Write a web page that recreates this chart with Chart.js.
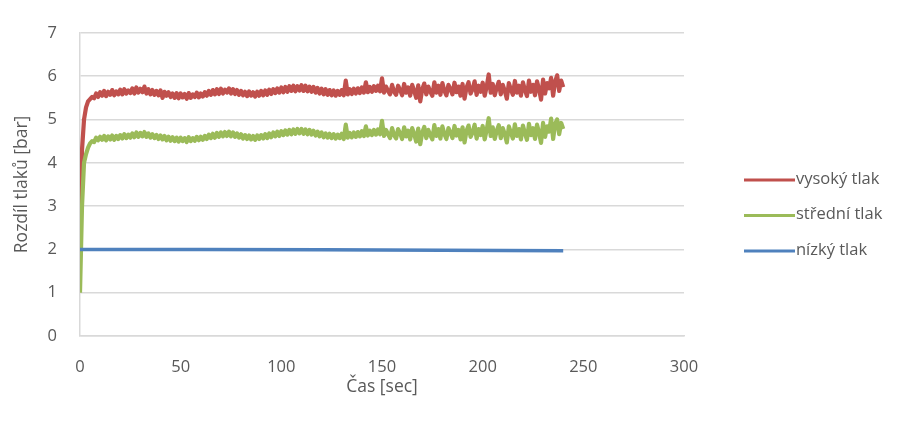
<!DOCTYPE html>
<html>
<head>
<meta charset="utf-8">
<script src="https://cdn.jsdelivr.net/npm/chart.js@4"></script>
<style>
  html, body { margin: 0; padding: 0; background: #ffffff; }
  #wrap { width: 916px; height: 421px; position: relative; }
</style>
</head>
<body>
<div id="wrap"><canvas id="c" width="916" height="421"></canvas></div>
<script>
// ---- data ----
const seriesNames = ["vysoký tlak", "střední tlak", "nízký tlak"];
const xTicks = [0, 50, 100, 150, 200, 250, 300];
const yTicks = [0, 1, 2, 3, 4, 5, 6, 7];

// sample times (s) for the two noisy series: one sample per second, 0..240
const timeSec = Array.from({ length: 241 }, (_, i) => i);

// vysoký tlak [bar], one value per second
const highPressure = [
  2.20, 4.30, 5.00, 5.28, 5.42, 5.47, 5.52, 5.49, 5.60, 5.52,
  5.63, 5.55, 5.66, 5.54, 5.64, 5.57, 5.68, 5.56, 5.65, 5.58,
  5.69, 5.58, 5.70, 5.60, 5.67, 5.61, 5.72, 5.60, 5.74, 5.62,
  5.71, 5.63, 5.76, 5.60, 5.70, 5.58, 5.68, 5.57, 5.66, 5.56,
  5.67, 5.50, 5.64, 5.55, 5.63, 5.52, 5.60, 5.50, 5.61, 5.49,
  5.60, 5.51, 5.59, 5.48, 5.61, 5.50, 5.58, 5.52, 5.62, 5.51,
  5.60, 5.53, 5.63, 5.55, 5.66, 5.57, 5.68, 5.58, 5.70, 5.59,
  5.71, 5.60, 5.69, 5.62, 5.72, 5.60, 5.70, 5.59, 5.68, 5.57,
  5.66, 5.56, 5.64, 5.54, 5.65, 5.55, 5.63, 5.53, 5.64, 5.55,
  5.66, 5.56, 5.67, 5.57, 5.69, 5.59, 5.70, 5.61, 5.72, 5.62,
  5.74, 5.63, 5.75, 5.64, 5.77, 5.66, 5.78, 5.65, 5.77, 5.67,
  5.79, 5.66, 5.78, 5.65, 5.76, 5.64, 5.75, 5.62, 5.73, 5.60,
  5.71, 5.58, 5.70, 5.57, 5.68, 5.56, 5.67, 5.55, 5.66, 5.57,
  5.68, 5.56, 5.90, 5.58, 5.70, 5.59, 5.71, 5.60, 5.72, 5.61,
  5.74, 5.62, 5.86, 5.63, 5.75, 5.64, 5.77, 5.66, 5.78, 5.65,
  5.95, 5.62, 5.76, 5.66, 5.58, 5.80, 5.64, 5.57, 5.78, 5.68,
  5.56, 5.82, 5.62, 5.74, 5.55, 5.80, 5.66, 5.50, 5.79, 5.42,
  5.70, 5.83, 5.58, 5.76, 5.64, 5.55, 5.86, 5.62, 5.78, 5.57,
  5.84, 5.66, 5.56, 5.80, 5.70, 5.58, 5.85, 5.63, 5.76, 5.55,
  5.82, 5.48, 5.74, 5.86, 5.60, 5.70, 5.88, 5.57, 5.78, 5.64,
  5.85, 5.55, 5.76, 6.04, 5.62, 5.82, 5.56, 5.74, 5.87, 5.58,
  5.80, 5.66, 5.48, 5.84, 5.70, 5.57, 5.89, 5.62, 5.78, 5.55,
  5.86, 5.68, 5.54, 5.90, 5.64, 5.80, 5.56, 5.88, 5.70, 5.46,
  5.92, 5.60, 5.84, 5.72, 5.96, 5.55, 5.88, 6.02, 5.66, 5.90,
  5.75
];

// střední tlak [bar], one value per second
const midPressure = [
  1.00, 3.00, 4.00, 4.20, 4.35, 4.45, 4.50, 4.48, 4.58, 4.52,
  4.60, 4.53, 4.62, 4.52, 4.61, 4.54, 4.63, 4.53, 4.62, 4.55,
  4.64, 4.56, 4.66, 4.57, 4.65, 4.58, 4.68, 4.59, 4.70, 4.60,
  4.69, 4.61, 4.71, 4.60, 4.68, 4.58, 4.66, 4.57, 4.64, 4.55,
  4.63, 4.54, 4.62, 4.52, 4.60, 4.51, 4.59, 4.50, 4.58, 4.49,
  4.58, 4.50, 4.57, 4.48, 4.59, 4.50, 4.57, 4.51, 4.60, 4.52,
  4.60, 4.53, 4.62, 4.55, 4.65, 4.57, 4.67, 4.58, 4.69, 4.60,
  4.70, 4.61, 4.71, 4.62, 4.72, 4.61, 4.70, 4.60, 4.68, 4.58,
  4.66, 4.56, 4.64, 4.55, 4.63, 4.54, 4.62, 4.53, 4.63, 4.55,
  4.64, 4.56, 4.66, 4.57, 4.68, 4.59, 4.70, 4.61, 4.72, 4.62,
  4.73, 4.64, 4.75, 4.65, 4.76, 4.66, 4.77, 4.67, 4.78, 4.68,
  4.78, 4.67, 4.77, 4.66, 4.76, 4.65, 4.74, 4.63, 4.72, 4.61,
  4.70, 4.59, 4.68, 4.58, 4.67, 4.57, 4.66, 4.56, 4.65, 4.57,
  4.67, 4.55, 4.88, 4.58, 4.69, 4.59, 4.70, 4.60, 4.71, 4.61,
  4.73, 4.62, 4.84, 4.63, 4.74, 4.64, 4.76, 4.65, 4.77, 4.66,
  4.97, 4.62, 4.76, 4.66, 4.57, 4.80, 4.64, 4.56, 4.78, 4.68,
  4.55, 4.82, 4.61, 4.74, 4.54, 4.80, 4.66, 4.49, 4.79, 4.43,
  4.70, 4.83, 4.57, 4.76, 4.64, 4.54, 4.87, 4.62, 4.78, 4.56,
  4.84, 4.66, 4.55, 4.80, 4.70, 4.57, 4.85, 4.63, 4.76, 4.54,
  4.82, 4.47, 4.74, 4.86, 4.60, 4.70, 4.88, 4.56, 4.78, 4.64,
  4.85, 4.54, 4.76, 5.03, 4.62, 4.82, 4.55, 4.74, 4.87, 4.57,
  4.80, 4.66, 4.47, 4.84, 4.70, 4.56, 4.89, 4.62, 4.78, 4.54,
  4.86, 4.68, 4.53, 4.90, 4.64, 4.80, 4.55, 4.88, 4.70, 4.46,
  4.92, 4.60, 4.84, 4.72, 5.02, 4.55, 4.90, 5.00, 4.66, 4.92,
  4.78
];

// nízký tlak [bar] – nearly constant line
const lowTimes = [0, 60, 120, 180, 240];
const lowPressure = [2.00, 2.00, 1.99, 1.98, 1.97];

// ---- styling ----
const colors = ["#C0504D", "#9BBB59", "#4F81BD"];
const textColor = "#595959";
const gridColor = "#D9D9D9";
const fontFamily = "'Open Sans', 'DejaVu Sans', sans-serif";

const toPoints = (xs, ys) => xs.map((x, i) => ({ x: x, y: ys[i] }));

const customLegend = {
  id: 'customLegend',
  afterDraw(chart) {
    const ctx = chart.ctx;
    const rows = [180, 215.5, 251];
    ctx.save();
    ctx.font = "16.5px " + fontFamily;
    ctx.textBaseline = 'middle';
    ctx.textAlign = 'left';
    chart.data.datasets.forEach((ds, i) => {
      const y = rows[i];
      ctx.strokeStyle = ds.borderColor;
      ctx.lineWidth = 3;
      ctx.lineCap = 'butt';
      ctx.beginPath();
      ctx.moveTo(744, y);
      ctx.lineTo(795, y);
      ctx.stroke();
      ctx.fillStyle = textColor;
      ctx.fillText(ds.label, 796, y - 1);
    });
    ctx.restore();
  }
};

new Chart(document.getElementById('c'), {
  type: 'line',
  data: {
    datasets: [
      { label: seriesNames[0], data: toPoints(timeSec, highPressure), borderColor: colors[0], backgroundColor: colors[0], borderWidth: 4.2, order: 3 },
      { label: seriesNames[1], data: toPoints(timeSec, midPressure), borderColor: colors[1], backgroundColor: colors[1], borderWidth: 4.2, order: 2 },
      { label: seriesNames[2], data: toPoints(lowTimes, lowPressure), borderColor: colors[2], backgroundColor: colors[2], borderWidth: 3.5, order: 1 }
    ]
  },
  options: {
    responsive: false,
    animation: false,
    parsing: true,
    elements: {
      point: { radius: 0, hoverRadius: 0 },
      line: { tension: 0, borderJoinStyle: 'round', borderCapStyle: 'butt' }
    },
    layout: { padding: { top: 21, right: 232, bottom: 0, left: 0 } },
    plugins: {
      legend: { display: false },
      tooltip: { enabled: false }
    },
    scales: {
      x: {
        type: 'linear',
        min: xTicks[0],
        max: xTicks[xTicks.length - 1],
        afterBuildTicks(scale) { scale.ticks = xTicks.map(v => ({ value: v })); },
        afterFit(scale) { scale.height = 85; },
        grid: { display: false, drawTicks: false },
        border: { display: true, color: gridColor, width: 1.5 },
        ticks: { color: textColor, font: { family: fontFamily, size: 16.5 }, padding: 21, maxRotation: 0, autoSkip: false },
        title: { display: true, text: "Čas [sec]", color: textColor, font: { family: fontFamily, size: 17.5 }, padding: { top: 0, bottom: 23 } }
      },
      y: {
        type: 'linear',
        min: yTicks[0],
        max: yTicks[yTicks.length - 1],
        afterBuildTicks(scale) { scale.ticks = yTicks.map(v => ({ value: v })); },
        afterFit(scale) { scale.width = 80; },
        grid: { color: gridColor, lineWidth: 1.5, drawTicks: false },
        border: { display: true, color: gridColor, width: 1.5 },
        ticks: { color: textColor, font: { family: fontFamily, size: 16.5 }, padding: 23 },
        title: { display: true, text: "Rozdíl tlaků [bar]", color: textColor, font: { family: fontFamily, size: 17.5 }, padding: { top: 12, bottom: 0 } }
      }
    }
  },
  plugins: [customLegend]
});
</script>
</body>
</html>
